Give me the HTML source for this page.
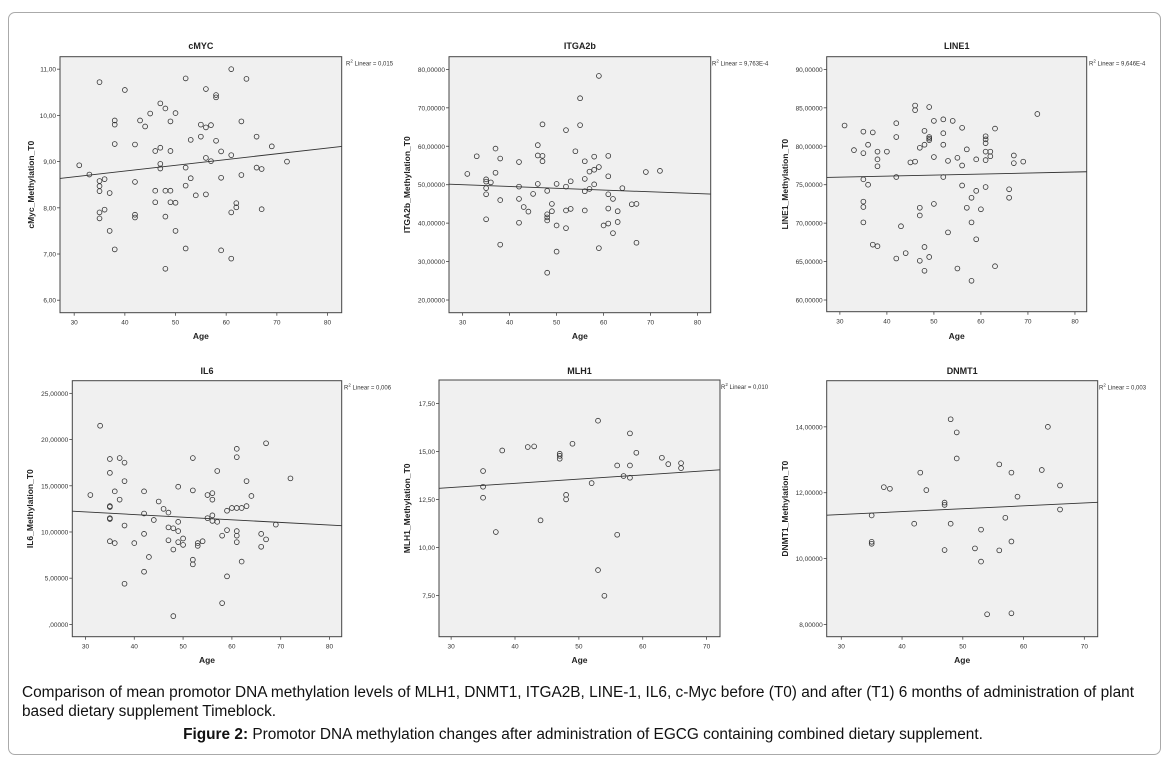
<!DOCTYPE html>
<html><head><meta charset="utf-8"><style>
body{margin:0;background:#fff;width:1170px;height:766px;overflow:hidden;position:relative;font-family:"Liberation Sans",Arial,sans-serif}
#frame{position:absolute;left:8px;top:12px;width:1151px;height:741px;border:1px solid #aaa;border-radius:7px}
.cap{position:absolute;left:22px;font-size:15.4px;color:#111;line-height:19px}
svg{position:absolute;overflow:hidden}
</style></head><body>
<div id="frame"></div>
<div class="cap" style="top:683px;width:1140px;white-space:nowrap">Comparison of mean promotor DNA methylation levels of MLH1, DNMT1, ITGA2B, LINE-1, IL6, c-Myc before (T0) and after (T1) 6 months of administration of plant<br>based dietary supplement Timeblock.</div>
<div class="cap" style="top:725px;left:0;width:1166px;text-align:center"><b>Figure 2:</b> Promotor DNA methylation changes after administration of EGCG containing combined dietary supplement.</div>
<div id="charts"></div>
<script>
// ---- data ----
const cmycAge=[31,33,35,35,35,35,35,35,36,36,37,37,38,38,38,38,40,42,42,42,42,43,44,45,46,46,46,47,47,47,47,48,48,48,48,49,49,49,49,50,50,50,52,52,52,52,53,53,54,55,55,56,56,56,56,57,57,58,58,58,59,59,59,61,61,61,61,62,62,63,63,64,66,66,67,67,69,72];
const cmycVal=[8.92,8.72,10.72,8.58,8.47,8.36,7.90,7.77,8.62,7.96,8.32,7.50,9.89,9.80,9.38,7.10,10.55,8.56,9.37,7.85,7.79,9.89,9.76,10.04,9.23,8.37,8.12,10.26,9.30,8.95,8.85,10.15,8.37,7.81,6.68,9.87,9.23,8.37,8.12,10.05,8.11,7.50,10.80,8.87,8.48,7.12,9.47,8.64,8.27,9.80,9.54,10.57,9.74,9.08,8.29,9.79,9.01,10.44,10.39,9.45,9.22,8.65,7.08,11.0,9.14,7.90,6.90,8.10,8.01,9.87,8.71,10.79,9.54,8.87,8.84,7.97,9.33,9.0];
const itgAge=[31,33,35,35,35,35,35,36,37,37,38,38,38,42,42,42,42,43,44,45,46,46,46,47,47,47,48,48,48,48,48,49,49,50,50,50,52,52,52,52,53,53,54,55,55,56,56,56,56,57,57,58,58,58,59,59,59,60,61,61,61,61,61,62,62,63,63,64,66,67,67,69,72];
const itgVal=[52.8,57.4,51.4,50.8,49.1,47.5,41.0,50.6,59.4,53.1,56.8,46.0,34.4,55.9,49.5,46.3,40.1,44.2,43.0,47.6,60.3,57.6,50.2,65.7,57.5,56.1,48.4,42.3,41.5,40.7,27.1,45.0,43.1,50.2,39.4,32.6,64.2,49.5,43.3,38.7,50.9,43.7,58.7,72.5,65.5,56.1,51.5,48.3,43.3,48.9,53.4,57.3,53.9,50.1,54.6,78.3,33.5,39.4,57.5,52.2,47.5,43.8,39.9,46.3,37.4,43.1,40.3,49.1,44.9,45.0,34.9,53.3,53.6];
const lineAge=[31,33,35,35,35,35,35,35,36,36,37,37,38,38,38,38,40,42,42,42,42,43,44,45,46,46,46,47,47,47,47,48,48,48,48,49,49,49,49,49,50,50,50,52,52,52,52,53,53,54,55,55,56,56,56,57,57,58,58,58,59,59,59,60,61,61,61,61,61,61,62,62,63,63,66,66,67,67,69,72];
const lineVal=[82.7,79.5,81.9,79.1,75.7,72.8,72.1,70.1,80.2,75.0,81.8,67.2,79.3,78.3,77.4,67.0,79.3,83.0,81.2,76.0,65.4,69.6,66.1,77.9,78.0,85.3,84.7,79.8,72.0,71.0,65.1,82.0,80.2,66.9,63.8,85.1,81.2,81.0,80.8,65.6,83.3,78.6,72.5,83.5,81.7,80.2,76.0,78.1,68.8,83.3,78.5,64.1,82.4,77.5,74.9,79.6,72.0,73.3,70.1,62.5,78.3,74.2,67.9,71.8,81.3,80.9,80.4,79.3,78.2,74.7,79.3,78.7,82.3,64.4,74.4,73.3,78.8,77.8,78.0,84.2];
const il6Age=[31,33,35,35,35,35,35,35,35,36,36,37,37,38,38,38,38,40,42,42,42,42,43,44,45,46,47,47,47,48,48,48,49,49,49,49,50,50,52,52,52,52,53,53,54,55,55,56,56,56,56,57,57,58,58,59,59,59,60,61,61,61,61,61,61,62,62,63,63,64,66,66,67,67,69,72];
const il6Val=[14.0,21.5,17.9,16.4,12.8,12.7,11.5,11.4,9.0,14.4,8.8,18.0,13.5,17.5,15.5,10.7,4.4,8.8,14.4,12.0,9.8,5.7,7.3,11.3,13.3,12.5,12.1,10.5,9.1,10.4,8.1,0.9,14.9,11.1,10.1,8.9,9.3,8.6,18.0,14.5,7.0,6.5,8.8,8.5,9.0,14.0,11.5,14.2,13.5,11.8,11.2,16.6,11.1,9.6,2.3,12.3,10.2,5.2,12.6,19.0,18.1,12.6,10.1,9.6,8.9,12.6,6.8,12.8,15.5,13.9,9.8,8.4,9.2,19.6,10.8,15.8];
const mlhAge=[35,35,35,37,38,42,43,44,47,47,47,48,48,49,52,53,53,54,56,56,57,58,58,58,59,63,64,66,66];
const mlhVal=[13.98,13.16,12.59,10.8,15.05,15.23,15.26,11.41,14.88,14.77,14.62,12.74,12.5,15.4,13.35,16.6,8.82,7.48,14.27,10.66,13.72,15.94,14.27,13.63,14.93,14.67,14.34,14.39,14.13];
const dnmAge=[35,35,35,37,38,42,43,44,47,47,47,48,48,49,49,52,53,53,54,56,56,57,58,58,58,59,63,64,66,66];
const dnmVal=[11.31,10.51,10.45,12.17,12.12,11.06,12.61,12.08,11.70,11.63,10.26,14.23,11.06,13.83,13.04,10.31,10.88,9.91,8.31,12.86,10.25,11.24,12.61,10.52,8.34,11.88,12.69,14.0,12.22,11.49];
const xTicks6=[30,40,50,60,70,80];
const xTicks5=[30,40,50,60,70];
const cmycTicks=[6,7,8,9,10,11];
const itgTicks=[20,30,40,50,60,70,80];
const lineTicks=[60,65,70,75,80,85,90];
const il6Ticks=[0,5,10,15,20,25];
const mlhTicks=[7.5,10,12.5,15,17.5];
const dnmTicks=[8,10,12,14];
const r2Labels=["0,015","9,763E-4","9,646E-4","0,006","0,010","0,003"];

// ---- layout (not data) ----
const NS="http://www.w3.org/2000/svg";
const panels=[
 {name:"cmyc",title:"cMYC",ytitle:"cMyc_Methylation_T0",ages:cmycAge,vals:cmycVal,xt:xTicks6,yt:cmycTicks,dec:2,r2:r2Labels[0],
  sx:20,sy:30,sw:375,sh:320,L:60,T:56.7,R:341.7,B:312.7,x0:27.2,x1:82.8,y0:5.73,y1:11.27,ytx:31,r2x:345,ttl:46,agey:336},
 {name:"itga2b",title:"ITGA2b",ytitle:"ITGA2b_Methylation_T0",ages:itgAge,vals:itgVal,xt:xTicks6,yt:itgTicks,dec:5,r2:r2Labels[1],
  sx:395,sy:30,sw:380,sh:320,L:449,T:56.7,R:710.7,B:312.7,x0:27.1,x1:82.8,y0:16.7,y1:83.3,ytx:407,r2x:711,ttl:46,agey:336},
 {name:"line1",title:"LINE1",ytitle:"LINE1_Methylation_T0",ages:lineAge,vals:lineVal,xt:xTicks6,yt:lineTicks,dec:5,r2:r2Labels[2],
  sx:775,sy:30,sw:384,sh:320,L:826.7,T:56.7,R:1086.7,B:311.7,x0:27.2,x1:82.5,y0:58.48,y1:91.65,ytx:785,r2x:1088,ttl:46,agey:336},
 {name:"il6",title:"IL6",ytitle:"IL6_Methylation_T0",ages:il6Age,vals:il6Val,xt:xTicks6,yt:il6Ticks,dec:5,r2:r2Labels[3],
  sx:20,sy:355,sw:375,sh:320,L:72.3,T:380.7,R:341.7,B:636.7,x0:27.3,x1:82.5,y0:-1.33,y1:26.37,ytx:30,r2x:343,ttl:371,agey:660},
 {name:"mlh1",title:"MLH1",ytitle:"MLH1_Methylation_T0",ages:mlhAge,vals:mlhVal,xt:xTicks5,yt:mlhTicks,dec:2,r2:r2Labels[4],
  sx:395,sy:355,sw:380,sh:320,L:439,T:380,R:720,B:636.7,x0:28.1,x1:72.1,y0:5.35,y1:18.72,ytx:407,r2x:720,ttl:371,agey:660},
 {name:"dnmt1",title:"DNMT1",ytitle:"DNMT1_Methylation_T0",ages:dnmAge,vals:dnmVal,xt:xTicks5,yt:dnmTicks,dec:5,r2:r2Labels[5],
  sx:775,sy:355,sw:384,sh:320,L:826.7,T:380.7,R:1097.7,B:636.7,x0:27.6,x1:72.2,y0:7.63,y1:15.40,ytx:785,r2x:1098,ttl:371,agey:660}
];
function mk(tag,attrs,parent){const e=document.createElementNS(NS,tag);for(const k in attrs)e.setAttribute(k,attrs[k]);parent.appendChild(e);return e;}
function fmt(v,d){let s=v.toFixed(d).replace('.',',');if(s.startsWith('0,'))s=s.slice(1);return s;}
const host=document.getElementById('charts');
panels.forEach(p=>{
 const svg=document.createElementNS(NS,'svg');
 svg.setAttribute('width',p.sw);svg.setAttribute('height',p.sh);
 svg.style.left=p.sx+'px';svg.style.top=p.sy+'px';
 
 
 host.appendChild(svg);
 const g=mk('g',{transform:`translate(${-p.sx},${-p.sy})`},svg);
 const X=a=>p.L+(a-p.x0)/(p.x1-p.x0)*(p.R-p.L);
 const Y=v=>p.B-(v-p.y0)/(p.y1-p.y0)*(p.B-p.T);
 const box=mk('rect',{x:p.L,y:p.T,width:p.R-p.L,height:p.B-p.T,fill:'#f0f0f0',stroke:'#444','stroke-width':1},g);
 
 
 const t=mk('text',{x:(p.L+p.R)/2,y:p.ttl+3,'text-anchor':'middle','font-size':9,'font-weight':'bold',fill:'#222'},g);
 t.textContent=p.title;
 
 
 p.yt.forEach(v=>{
  const y=Y(v);
  mk('line',{x1:p.L-3,x2:p.L,y1:y,y2:y,stroke:'#444','stroke-width':0.8},g);
  const tl=mk('text',{x:p.L-4,y:y+2.5,'text-anchor':'end','font-size':6.5,fill:'#333'},g);
  tl.textContent=fmt(v,p.dec);
  
  
 });
 p.xt.forEach(v=>{
  const x=X(v);
  mk('line',{x1:x,x2:x,y1:p.B,y2:p.B+3,stroke:'#444','stroke-width':0.8},g);
  const tl=mk('text',{x:x,y:p.B+12,'text-anchor':'middle','font-size':6.5,fill:'#333'},g);
  tl.textContent=String(v);
  
  
 });
 const xa=mk('text',{x:(p.L+p.R)/2,y:p.agey+3,'text-anchor':'middle','font-size':8.5,'font-weight':'bold',fill:'#222'},g);
 xa.textContent='Age';
 
 
 const cy=(p.T+p.B)/2;
 const ya=mk('text',{x:p.ytx,y:cy,'text-anchor':'middle','font-size':8.5,'font-weight':'bold',fill:'#222',transform:`rotate(-90 ${p.ytx} ${cy})`,dy:3},g);
 ya.textContent=p.ytitle;
 
 
 const n=p.ages.length;let mx=0,my=0;for(let i=0;i<n;i++){mx+=p.ages[i];my+=p.vals[i];}mx/=n;my/=n;
 let sxy=0,sxx=0;for(let i=0;i<n;i++){sxy+=(p.ages[i]-mx)*(p.vals[i]-my);sxx+=(p.ages[i]-mx)**2;}
 const b=sxy/sxx,a=my-b*mx;
 const ln=mk('line',{x1:X(p.x0),y1:Y(a+b*p.x0),x2:X(p.x1),y2:Y(a+b*p.x1),stroke:'#333','stroke-width':0.9},g);
 
 
 for(let i=0;i<n;i++){
  const c=mk('circle',{cx:X(p.ages[i]),cy:Y(p.vals[i]),r:2.4,fill:'none',stroke:'#333','stroke-width':0.8},g);
  
  
 }
 const r=mk('text',{x:p.r2x+1,y:p.T+9,'font-size':6,fill:'#333'},g);
 r.innerHTML='R<tspan dy="-3" font-size="4.5">2</tspan><tspan dy="3"> Linear = '+p.r2+'</tspan>';
 
 
});
</script>
</body></html>
